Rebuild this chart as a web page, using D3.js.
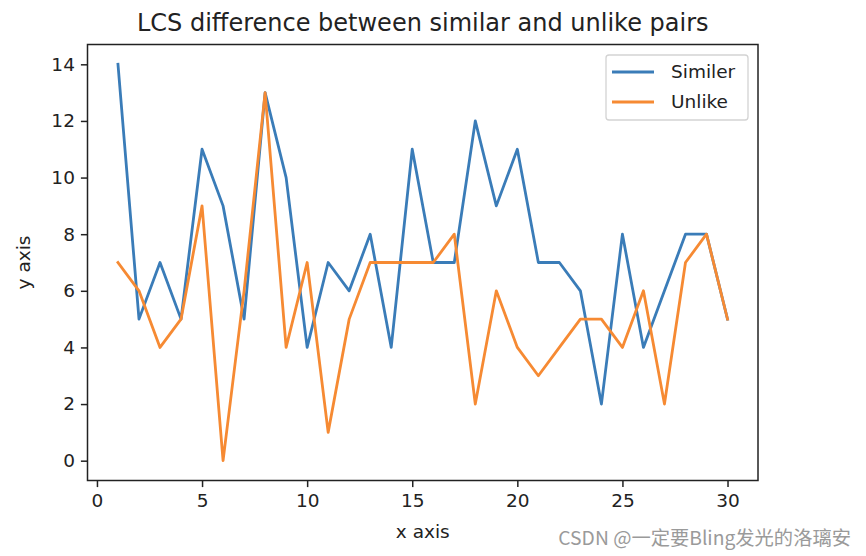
<!DOCTYPE html>
<html>
<head>
<meta charset="utf-8">
<script src="https://cdn.jsdelivr.net/npm/d3@7"></script>
<style>
  html, body { margin: 0; padding: 0; background: #fff; }
  svg { display: block; }
  text { font-family: "DejaVu Sans", sans-serif; fill: #222; }
</style>
</head>
<body>
<svg id="chart" width="866" height="556"></svg>
<script>
// ---- data ----
const xValues   = [1,2,3,4,5,6,7,8,9,10,11,12,13,14,15,16,17,18,19,20,21,22,23,24,25,26,27,28,29,30];
const similer   = [14,5,7,5,11,9,5,13,10,4,7,6,8,4,11,7,7,12,9,11,7,7,6,2,8,4,6,8,8,5];
const unlike    = [7,6,4,5,9,0,6,13,4,7,1,5,7,7,7,7,8,2,6,4,3,4,5,5,4,6,2,7,8,5];
const seriesNames = ["Similer", "Unlike"];
const xTicks = [0,5,10,15,20,25,30];
const yTicks = [0,2,4,6,8,10,12,14];
const titleText = "LCS difference between similar and unlike pairs";
const xLabel = "x axis";
const yLabel = "y axis";
const watermark = "CSDN @一定要Bling发光的洛璃安";

// ---- layout ----
const L = 87.5, R = 758, T = 44.5, B = 480.5;
const colors = ["#3a7cb8", "#f68a33"];
const svg = d3.select("#chart");

const x = d3.scaleLinear().domain([-0.45, 31.45]).range([L, R]);
const y = d3.scaleLinear().domain([-0.7, 14.7]).range([B, T]);

// lines
const line = d3.line().x((d, i) => x(xValues[i])).y(d => y(d));
[similer, unlike].forEach((s, k) => {
  svg.append("path")
    .datum(s)
    .attr("d", line)
    .attr("fill", "none")
    .attr("stroke", colors[k])
    .attr("stroke-width", 2.8)
    .attr("stroke-linejoin", "round")
    .attr("stroke-linecap", "square");
});

// axes
const xAxis = d3.axisBottom(x).tickValues(xTicks).tickSize(6.6).tickPadding(5).tickFormat(d3.format("d"));
const yAxis = d3.axisLeft(y).tickValues(yTicks).tickSize(6.6).tickPadding(6).tickFormat(d3.format("d"));

const gx = svg.append("g").attr("transform", `translate(0,${B})`).call(xAxis);
const gy = svg.append("g").attr("transform", `translate(${L},0)`).call(yAxis);
[gx, gy].forEach(g => {
  g.select(".domain").remove();
  g.selectAll(".tick line").attr("stroke", "#222").attr("stroke-width", 1.5);
  g.selectAll(".tick text").attr("font-family", "DejaVu Sans").attr("font-size", 18.5).attr("fill", "#222");
});
gx.selectAll(".tick text").attr("dy", "0.8em");

// spines
svg.append("rect")
  .attr("x", L).attr("y", T).attr("width", R - L).attr("height", B - T)
  .attr("fill", "none").attr("stroke", "#222").attr("stroke-width", 1.5);

// title & labels
svg.append("text").attr("x", (L + R) / 2).attr("y", 31)
  .attr("text-anchor", "middle").attr("font-size", 24).text(titleText);
svg.append("text").attr("x", (L + R) / 2).attr("y", 538)
  .attr("text-anchor", "middle").attr("font-size", 18.5).text(xLabel);
svg.append("text").attr("transform", `translate(30,${(T + B) / 2}) rotate(-90)`)
  .attr("text-anchor", "middle").attr("font-size", 18.5).text(yLabel);

// legend
const lg = svg.append("g");
lg.append("rect").attr("x", 606).attr("y", 55).attr("width", 142).attr("height", 65)
  .attr("rx", 3).attr("fill", "#fff").attr("fill-opacity", 0.8)
  .attr("stroke", "#d3d3d3").attr("stroke-width", 1.3);
seriesNames.forEach((n, k) => {
  const yy = 72 + k * 30;
  lg.append("line").attr("x1", 612).attr("x2", 654).attr("y1", yy).attr("y2", yy)
    .attr("stroke", colors[k]).attr("stroke-width", 2.8);
  lg.append("text").attr("x", 671).attr("y", yy).attr("dy", "0.35em")
    .attr("font-size", 18.5).text(n);
});

// watermark
svg.append("text").attr("x", 851).attr("y", 545).attr("text-anchor", "end")
  .style("font-family", "'Noto Sans CJK SC', sans-serif").style("fill", "#9a9a9a")
  .attr("font-size", 19.3).text(watermark);
</script>
</body>
</html>
